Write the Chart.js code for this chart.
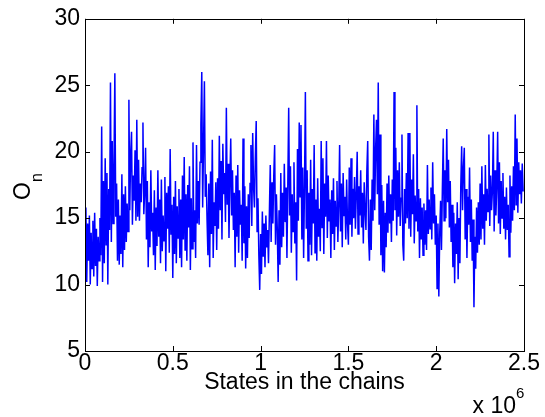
<!DOCTYPE html>
<html>
<head>
<meta charset="utf-8">
<script src="https://cdn.jsdelivr.net/npm/chart.js@4/dist/chart.umd.min.js"></script>
<style>
  html, body { margin: 0; padding: 0; background: #fff; }
  #wrap { width: 545px; height: 417px; }
</style>
</head>
<body>
<div id="wrap"><canvas id="trace" width="545" height="417"></canvas></div>
<script>
// O_n, one value every 5000 states
const observable = [
  12.5, 15.8, 10.2, 14.6, 11.8, 15.2, 10.0, 13.9, 11.2, 14.8,
  10.6, 15.4, 11.4, 14.2, 9.9, 13.6, 11.8, 15.0, 12.2, 21.9,
  10.2, 17.8, 11.6, 19.5, 13.0, 18.4, 10.0, 17.2, 14.1, 25.2,
  13.2, 20.8, 14.6, 18.9, 25.9, 15.1, 17.6, 11.8, 16.4, 11.5,
  15.2, 12.3, 18.3, 11.3, 16.8, 12.6, 17.4, 13.2, 16.1, 14.0,
  23.9, 15.6, 19.8, 21.5, 14.5, 18.2, 16.3, 20.1, 14.8, 22.4,
  15.1, 19.4, 14.8, 17.6, 16.2, 18.8, 22.2, 15.3, 17.0, 20.3,
  13.4, 17.8, 11.3, 16.2, 12.8, 18.6, 14.0, 15.4, 12.2, 17.1,
  11.1, 15.8, 12.9, 18.6, 13.6, 16.4, 11.6, 17.9, 12.5, 15.2,
  13.3, 18.1, 11.0, 16.9, 14.2, 17.4, 12.4, 20.2, 13.8, 16.0,
  10.5, 16.6, 12.3, 17.8, 11.6, 15.9, 13.5, 17.2, 12.0, 16.4,
  11.3, 18.2, 13.4, 19.6, 12.6, 16.8, 11.8, 17.5, 14.3, 18.9,
  11.1, 16.5, 12.7, 20.7, 13.2, 15.6, 12.0, 20.5, 14.6, 17.8,
  14.5, 19.2, 22.0, 26.0, 15.8, 20.4, 25.3, 16.6, 18.3, 14.9,
  12.2, 17.6, 11.3, 18.5, 13.8, 20.9, 12.0, 16.2, 14.4, 17.7,
  12.6, 18.0, 14.2, 21.2, 15.6, 19.3, 13.4, 20.6, 16.8, 18.4,
  14.7, 23.3, 16.0, 19.1, 13.5, 17.8, 21.0, 15.2, 18.6, 14.1,
  16.9, 11.3, 18.2, 13.6, 19.0, 12.4, 17.1, 14.5, 16.0, 11.8,
  21.0, 13.1, 17.4, 11.2, 15.9, 12.0, 16.8, 13.5, 17.6, 20.5,
  14.4, 21.4, 17.3, 15.8, 19.6, 22.3, 14.0, 16.5, 12.2, 9.6,
  13.8, 10.8, 15.5, 12.1, 14.6, 11.3, 15.2, 12.8, 14.1, 11.6,
  15.4, 19.0, 13.2, 17.7, 14.6, 18.2, 20.5, 13.0, 16.8, 14.2,
  10.2, 15.6, 11.5, 18.4, 12.8, 16.9, 13.6, 19.1, 14.7, 17.3,
  12.0, 17.6, 23.3, 15.2, 18.9, 12.4, 16.8, 14.0, 19.2, 13.1,
  16.2, 10.3, 20.2, 14.8, 22.2, 16.6, 22.0, 13.4, 18.8, 12.0,
  17.4, 24.5, 14.2, 18.6, 11.8, 16.9, 13.0, 19.4, 12.2, 17.2,
  14.6, 20.5, 12.4, 16.4, 11.8, 18.0, 13.6, 15.7, 12.5, 20.8,
  14.3, 19.5, 12.3, 17.6, 15.1, 20.8, 13.5, 18.2, 14.8, 16.4,
  12.0, 17.1, 13.8, 18.0, 12.6, 16.3, 14.4, 17.8, 13.2, 15.9,
  20.5, 14.0, 17.6, 12.8, 18.4, 15.2, 16.6, 13.4, 17.9, 14.6,
  13.0, 18.8, 14.5, 19.5, 13.6, 17.2, 15.0, 18.1, 14.2, 16.8,
  20.0, 13.8, 17.4, 15.2, 18.6, 14.3, 16.9, 13.1, 17.7, 15.5,
  14.1, 18.5, 20.8, 13.6, 11.8, 16.4, 12.6, 17.9, 14.8, 22.8,
  15.6, 20.2, 22.4, 16.8, 25.2, 14.5, 21.3, 12.2, 17.5, 11.0,
  16.3, 10.9, 15.4, 12.8, 17.6, 13.9, 18.2, 14.6, 16.8, 13.2,
  17.9, 14.8, 24.5, 15.6, 20.3, 13.7, 18.6, 15.1, 19.2, 14.4,
  16.5, 21.3, 13.0, 11.8, 17.2, 14.6, 18.4, 15.0, 21.4, 14.2,
  21.4, 13.6, 17.9, 15.3, 19.8, 13.1, 16.7, 14.8, 23.5, 14.0,
  17.2, 12.0, 16.5, 13.4, 15.8, 12.2, 16.1, 13.0, 15.6, 12.6,
  19.0, 13.8, 16.4, 14.2, 17.3, 13.4, 19.2, 14.6, 16.8, 13.0,
  15.2, 9.7, 14.6, 9.1, 13.8, 16.3, 12.6, 17.1, 21.0, 14.8,
  18.6, 15.0, 21.7, 16.2, 19.4, 14.3, 17.8, 13.2, 16.0, 11.3,
  15.4, 10.1, 14.6, 12.3, 16.2, 10.4, 15.0, 11.6, 17.4, 20.4,
  15.6, 18.8, 20.3, 13.4, 17.2, 12.0, 16.6, 14.5, 18.8, 13.2,
  16.4, 11.8, 14.9, 8.3, 13.6, 11.2, 15.8, 12.4, 16.2, 13.0,
  17.6, 13.4, 18.9, 14.2, 16.8, 13.0, 19.0, 14.8, 17.2, 15.5,
  21.3, 14.4, 18.2, 15.6, 17.0, 21.5, 14.0, 18.6, 15.2, 17.4,
  21.5, 14.6, 19.2, 13.8, 17.8, 15.0, 18.4, 14.2, 16.6, 13.4,
  17.3, 14.1, 16.0, 12.1, 18.2, 13.9, 17.4, 14.8, 18.9, 15.6,
  22.8, 16.0, 21.0, 15.4, 19.2, 16.8, 18.6, 16.1, 19.1, 17.0
];
const STATE_STEP = 5000;
const states = observable.map((v, i) => i * STATE_STEP);

const xTicks = [0, 0.5e6, 1e6, 1.5e6, 2e6, 2.5e6];
const yTicks = [5, 10, 15, 20, 25, 30];
const xTitle = "States in the chains";
const yTitle = "O";
const yTitleSub = "n";
const xExponent = "6";

const FONT = '"Liberation Sans", Arial, Helvetica, sans-serif';

// matlab style box with inward ticks, plus the y label and the x 10^6 note
const matlabAxes = {
  id: "matlabAxes",
  afterDatasetsDraw(chart) {
    const { ctx, chartArea: a, scales } = chart;
    const len = 5;
    ctx.save();
    ctx.strokeStyle = "#000";
    ctx.lineWidth = 1;
    ctx.beginPath();
    xTicks.forEach((t) => {
      const px = Math.round(scales.x.getPixelForValue(t)) + 0.5;
      ctx.moveTo(px, a.bottom); ctx.lineTo(px, a.bottom - len);
      ctx.moveTo(px, a.top); ctx.lineTo(px, a.top + len);
    });
    yTicks.forEach((t) => {
      const py = Math.round(scales.y.getPixelForValue(t)) + 0.5;
      ctx.moveTo(a.left, py); ctx.lineTo(a.left + len, py);
      ctx.moveTo(a.right, py); ctx.lineTo(a.right - len, py);
    });
    ctx.stroke();
    ctx.strokeRect(Math.round(a.left) + 0.5, Math.round(a.top) + 0.5,
      Math.round(a.right - a.left), Math.round(a.bottom - a.top));

    ctx.fillStyle = "#000";
    // y label, rotated, with subscript
    ctx.translate(30, 200);
    ctx.rotate(-Math.PI / 2);
    ctx.textBaseline = "alphabetic";
    ctx.textAlign = "left";
    ctx.font = "23px " + FONT;
    ctx.fillText(yTitle, 0, 0);
    const w = ctx.measureText(yTitle).width;
    ctx.font = "16px " + FONT;
    ctx.fillText(yTitleSub, w, 12);
    ctx.setTransform(1, 0, 0, 1, 0, 0);

    // exponent of the x axis
    ctx.font = "23px " + FONT;
    ctx.textAlign = "right";
    ctx.fillText("x 10", 516, 413);
    ctx.font = "15px " + FONT;
    ctx.textAlign = "left";
    ctx.fillText(xExponent, 516, 398);
    ctx.restore();
  }
};

new Chart(document.getElementById("trace"), {
  type: "line",
  data: {
    labels: states,
    datasets: [{
      data: observable,
      borderColor: "#0000ff",
      borderWidth: 1.5,
      pointRadius: 0,
      tension: 0,
      fill: false
    }]
  },
  options: {
    responsive: false,
    animation: false,
    events: [],
    layout: { padding: { top: 17, right: 21, left: 0, bottom: 0 } },
    plugins: { legend: { display: false }, tooltip: { enabled: false } },
    scales: {
      x: {
        type: "linear",
        min: 0,
        max: 2.5e6,
        afterBuildTicks: (s) => { s.ticks = xTicks.map((v) => ({ value: v })); },
        afterFit: (s) => { s.height = 66; },
        grid: { display: false, drawTicks: false },
        border: { display: false },
        ticks: {
          color: "#000",
          font: { family: FONT, size: 23 },
          padding: -1,
          maxRotation: 0,
          autoSkip: false,
          callback: (v) => String(v / 1e6)
        },
        title: {
          display: true,
          text: xTitle,
          color: "#000",
          font: { family: FONT, size: 23 },
          padding: { top: 0, bottom: 21 }
        }
      },
      y: {
        min: 5,
        max: 30,
        afterBuildTicks: (s) => { s.ticks = yTicks.map((v) => ({ value: v })); },
        afterFit: (s) => { s.width = 85; },
        grid: { display: false, drawTicks: false },
        border: { display: false },
        ticks: {
          color: "#000",
          font: { family: FONT, size: 23 },
          padding: 5
        }
      }
    }
  },
  plugins: [matlabAxes]
});
</script>
</body>
</html>
